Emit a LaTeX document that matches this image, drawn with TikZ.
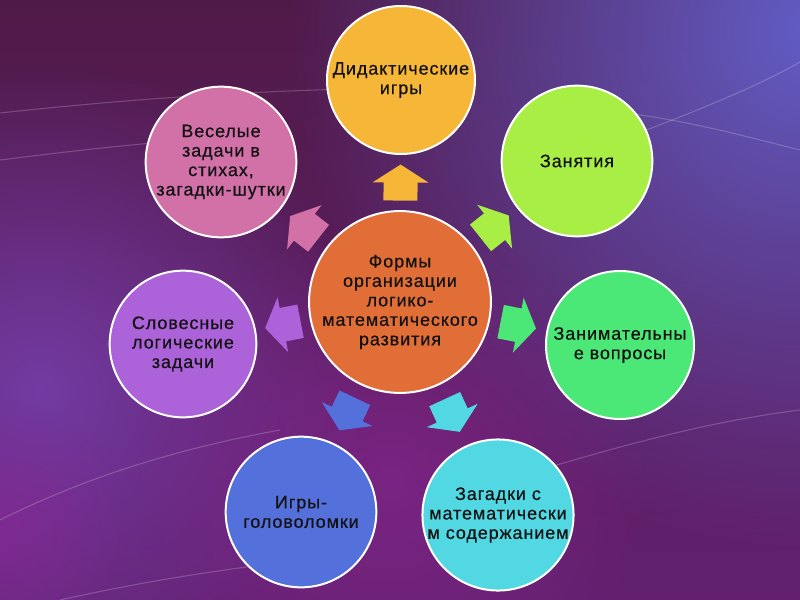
\documentclass[tikz,border=0pt]{standalone}
\usepackage{fontspec}
\setmainfont[LetterSpace=5,FakeBold=0.5]{Liberation Sans}
\usetikzlibrary{fadings}

\definecolor{bgtop}{RGB}{80,26,72}
\definecolor{bgbot}{RGB}{98,32,110}
\definecolor{glowblue}{RGB}{100,100,210}
\definecolor{glowpurp}{RGB}{118,62,170}
\definecolor{glowmag}{RGB}{140,40,150}
\definecolor{ctrcol}{RGB}{225,110,55}
\definecolor{didcol}{RGB}{246,182,56}
\definecolor{zancol}{RGB}{168,238,69}
\definecolor{voprcol}{RGB}{76,232,119}
\definecolor{zagcol}{RGB}{82,216,226}
\definecolor{golcol}{RGB}{84,112,218}
\definecolor{slovcol}{RGB}{172,98,216}
\definecolor{vescol}{RGB}{210,112,168}
\definecolor{txtcol}{RGB}{18,18,18}

\tikzfading[name=glowfade, inner color=transparent!0, outer color=transparent!100]

\tikzset{
  form/.style={circle, draw=white, line width=1.5pt, minimum size=113pt,
    inner sep=0pt, align=center, text=txtcol,
    font=\fontsize{13.5}{14.6}\selectfont},
  streak/.style={white, line width=0.8pt, opacity=0.2},
  blockarrow/.pic={
    \path[pic actions] (-18,-17) -- (0,-17) -- (0,-28) -- (18,0)
      -- (0,28) -- (0,17) -- (-18,17) -- cycle;
  }
}

\begin{document}
\begin{tikzpicture}[x=0.75pt,y=-0.75pt]
  \useasboundingbox (0,0) rectangle (800,600);
  % background
  \begin{scope}
    \clip (0,0) rectangle (800,600);
    \shade[top color=bgtop, bottom color=bgbot] (0,0) rectangle (800,600);
    \fill[glowblue, path fading=glowfade, fill opacity=0.9] (810,30) circle (520);
    \fill[glowpurp, path fading=glowfade, fill opacity=0.9] (40,390) circle (330);
    \fill[glowmag, path fading=glowfade, fill opacity=0.6] (390,480) circle (260);
    \fill[glowmag, path fading=glowfade, fill opacity=0.6] (0,530) circle (130);
    \draw[streak] (0,113) .. controls (120,100) and (250,90) .. (400,88);
    \draw[streak] (0,160) .. controls (80,150) and (150,142) .. (220,138);
    \draw[streak] (600,110) .. controls (680,118) and (740,135) .. (800,150);
    \draw[streak] (620,140) .. controls (700,110) and (760,85) .. (800,62);
    \draw[streak] (0,520) .. controls (80,480) and (170,450) .. (280,430);
    \draw[streak] (60,600) .. controls (150,580) and (220,570) .. (300,560);
    \draw[streak] (540,470) .. controls (640,440) and (720,420) .. (800,410);
  \end{scope}

  \node[form, fill=ctrcol, minimum size=128pt] (ctr) at (400,302)
    {Формы\\организации\\логико-\\математического\\развития};
  \node[form, fill=didcol, minimum size=111pt] (did) at (401,80) {Дидактические\\игры};
  \node[form, fill=zancol] (zan) at (577,161) {Занятия};
  \node[form, fill=voprcol, minimum size=111pt] (vopr) at (620,345) {Занимательны\\е вопросы};
  \node[form, fill=zagcol] (zag) at (498,515) {Загадки с\\математически\\м содержанием};
  \node[form, fill=golcol] (gol) at (301,512) {Игры-\\головоломки};
  \node[form, fill=slovcol, minimum size=110pt] (slov) at (183,344) {Словесные\\логические\\задачи};
  \node[form, fill=vescol] (ves) at (221,162) {Веселые\\задачи в\\стихах,\\загадки-шутки};

  % arrows from the centre
  \foreach \t/\c in {did/didcol, zan/zancol, vopr/voprcol, zag/zagcol,
                     gol/golcol, slov/slovcol, ves/vescol}
    \path (ctr) -- (\t) pic[pos=0.5, sloped, allow upside down, fill=\c] {blockarrow};
\end{tikzpicture}
\end{document}
